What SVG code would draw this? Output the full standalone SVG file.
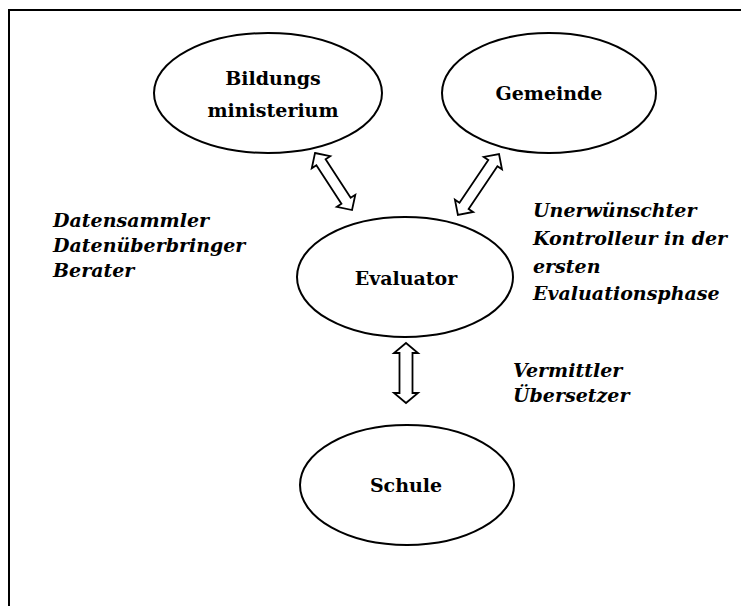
<svg xmlns="http://www.w3.org/2000/svg" width="741" height="606" viewBox="0 0 741 606">
  <defs>
    <style>
      .node ellipse { fill: #fff; stroke: #000; stroke-width: 2; }
      .node text { font-family: "DejaVu Serif", "Liberation Serif", serif; font-size: 19px; font-weight: bold; text-anchor: middle; fill: #000; }
      .note { font-family: "DejaVu Serif", "Liberation Serif", serif; font-size: 19px; font-style: italic; font-weight: bold; fill: #000; }
      .conn { fill: #fff; stroke: #000; stroke-width: 1.8; stroke-linejoin: miter; }
    </style>
  </defs>

  <!-- page frame -->
  <rect x="9" y="10" width="740" height="610" fill="#fff" stroke="#000" stroke-width="2"/>

  <!-- hollow double-headed block arrows between the nodes -->
  <g id="connectors">
    <polygon class="conn" points="0,0 11,-11 11,-5.5 57,-5.5 57,-11 68,0 57,11 57,5.5 11,5.5 11,11" transform="translate(315,153) rotate(57)"/>
    <polygon class="conn" points="0,0 11,-11 11,-5.5 62.5,-5.5 62.5,-11 73.5,0 62.5,11 62.5,5.5 11,5.5 11,11" transform="translate(499,154) rotate(124)"/>
    <polygon class="conn" points="0,0 10,-12 10,-6.5 50,-6.5 50,-12 60,0 50,12 50,6.5 10,6.5 10,12" transform="translate(406,343) rotate(90)"/>
  </g>

  <g id="bildungsministerium" class="node">
    <ellipse cx="268" cy="93" rx="114" ry="60"/>
    <text x="273" y="85">Bildungs</text>
    <text x="273" y="117">ministerium</text>
  </g>

  <g id="gemeinde" class="node">
    <ellipse cx="549" cy="93" rx="107" ry="60"/>
    <text x="549" y="100">Gemeinde</text>
  </g>

  <g id="evaluator" class="node">
    <ellipse cx="405" cy="277" rx="108" ry="60"/>
    <text x="406" y="285">Evaluator</text>
  </g>

  <g id="schule" class="node">
    <ellipse cx="407" cy="485" rx="107" ry="60"/>
    <text x="406" y="492">Schule</text>
  </g>

  <g id="notes">
    <text class="note" x="53" y="227">Datensammler</text>
    <text class="note" x="53" y="252">Datenüberbringer</text>
    <text class="note" x="53" y="277">Berater</text>

    <text class="note" x="533" y="217">Unerwünschter</text>
    <text class="note" x="533" y="245">Kontrolleur in der</text>
    <text class="note" x="533" y="273">ersten</text>
    <text class="note" x="533" y="300">Evaluationsphase</text>

    <text class="note" x="513" y="377">Vermittler</text>
    <text class="note" x="513" y="402">Übersetzer</text>
  </g>
</svg>
